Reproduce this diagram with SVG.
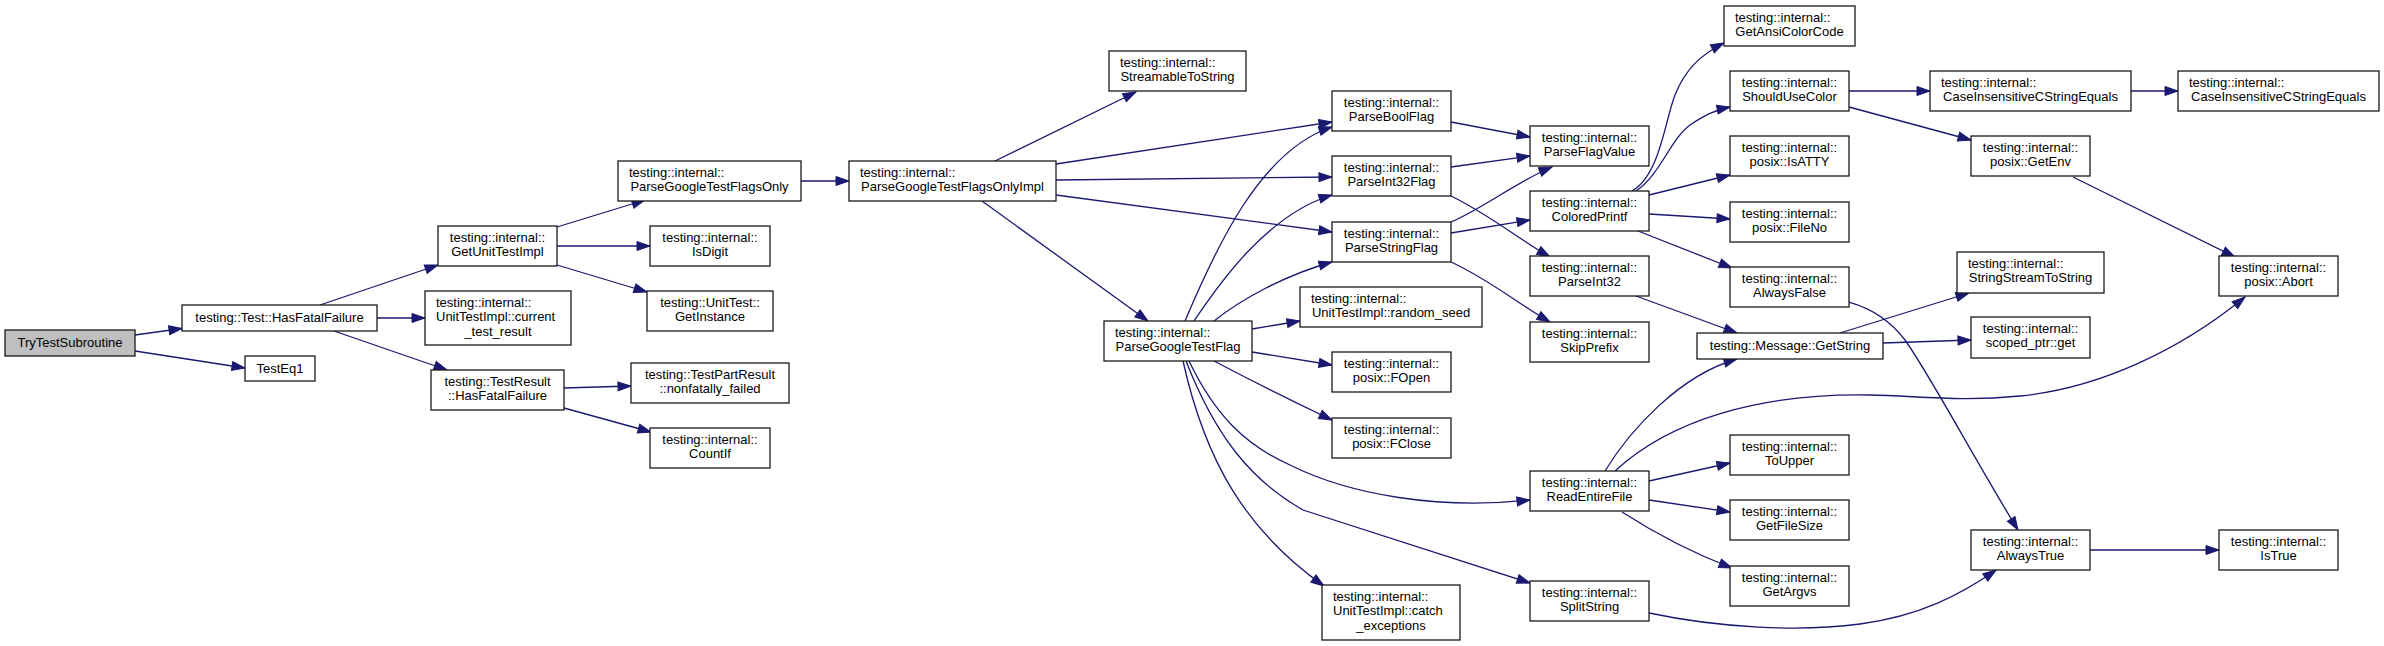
<svg xmlns="http://www.w3.org/2000/svg" width="2384" height="646" viewBox="0 0 2384 646">
<style>
.n rect{fill:#fff;stroke:#1a1a1a;stroke-width:1.3}
.root rect{fill:#bfbfbf}
text{font-family:"Liberation Sans",Arial,Helvetica,sans-serif;font-size:13px;fill:#000}
.c{text-anchor:middle}
#edges path{fill:none;stroke:#191970;stroke-width:1.3;marker-end:url(#a)}
</style>
<defs>
<marker id="a" markerUnits="userSpaceOnUse" markerWidth="14" markerHeight="10" refX="13" refY="4.5" orient="auto" overflow="visible"><path d="M0,0 L13,4.5 L0,9 z" fill="#191970" stroke="#191970" stroke-width="1"/></marker>
</defs>
<rect width="2384" height="646" fill="#fff"/>
<g id="edges">
<path d="M135,335 L182,328.5"/>
<path d="M135,351 L245,368"/>
<path d="M320,305 L438,265"/>
<path d="M377,318 L425,318"/>
<path d="M334,331 L447,370"/>
<path d="M557,227 L645,200"/>
<path d="M557,246 L650,246"/>
<path d="M557,265 L647,292"/>
<path d="M564,388 L631,386"/>
<path d="M564,408 L651,432"/>
<path d="M801,181 L849,181"/>
<path d="M995,161 L1136,92"/>
<path d="M1056,164 L1332,122"/>
<path d="M1056,180 L1332,177"/>
<path d="M1056,195 L1332,232"/>
<path d="M982,201 L1148,321"/>
<path d="M1185,321 C1215,250 1260,150 1332,127"/>
<path d="M1194,321 C1215,290 1265,215 1332,195"/>
<path d="M1214,321 C1240,300 1285,275 1332,262"/>
<path d="M1252,329 L1300,321"/>
<path d="M1252,352 L1332,365"/>
<path d="M1214,361 C1250,380 1290,400 1332,420"/>
<path d="M1189,361 C1215,415 1245,445 1290,465 C1350,495 1440,510 1530,500"/>
<path d="M1186,361 C1215,435 1250,480 1303,510 L1530,583"/>
<path d="M1183,361 C1205,460 1245,530 1324,586"/>
<path d="M1451,122 L1530,137"/>
<path d="M1451,167 L1530,156"/>
<path d="M1451,196 C1490,215 1520,240 1550,257"/>
<path d="M1451,222 C1480,210 1520,180 1552,167"/>
<path d="M1451,233 L1530,220"/>
<path d="M1451,262 C1490,280 1520,305 1550,322"/>
<path d="M1632,191 C1660,175 1665,120 1675,95 C1685,70 1700,55 1724,43"/>
<path d="M1636,191 C1660,175 1670,140 1690,125 C1705,115 1715,110 1730,107"/>
<path d="M1649,195 L1730,175"/>
<path d="M1649,214 L1730,219"/>
<path d="M1638,231 L1732,268"/>
<path d="M1636,296 L1737,333"/>
<path d="M1605,471 C1630,430 1680,375 1737,359"/>
<path d="M1615,471 C1670,420 1760,393 1870,395 C1920,396 1960,402 2020,396 C2100,388 2180,350 2245,297"/>
<path d="M1649,481 L1730,463"/>
<path d="M1649,500 L1730,512"/>
<path d="M1622,512 C1650,530 1690,552 1732,568"/>
<path d="M1649,613 C1720,628 1800,632 1860,624 C1920,616 1960,595 1996,570"/>
<path d="M1849,302 C1870,308 1890,320 1905,340 C1930,375 1975,460 2018,530"/>
<path d="M1840,333 L1969,293"/>
<path d="M1883,343 L1971,340"/>
<path d="M1849,91 L1930,91"/>
<path d="M1849,107 L1971,140"/>
<path d="M2131,91 L2178,91"/>
<path d="M2073,177 L2235,257"/>
<path d="M2090,550 L2219,550"/>
</g>
<g id="n_root" class="n root"><rect x="5" y="330" width="130" height="26"/><text class="c" x="70" y="347">TryTestSubroutine</text></g>
<g id="n_hff" class="n"><rect x="182" y="305" width="195" height="26"/><text class="c" x="279.5" y="322">testing::Test::HasFatalFailure</text></g>
<g id="n_eq1" class="n"><rect x="245" y="356" width="70" height="25"/><text class="c" x="280" y="373">TestEq1</text></g>
<g id="n_guti" class="n"><rect x="438" y="226" width="119" height="40"/><text class="c" x="497.5" y="241.5">testing::internal::</text><text class="c" x="497.5" y="256">GetUnitTestImpl</text></g>
<g id="n_ctr" class="n"><rect x="425" y="291" width="146" height="54"/><text x="436" y="306.5">testing::internal::</text><text x="436" y="321">UnitTestImpl::current</text><text class="c" x="498" y="335.5">_test_result</text></g>
<g id="n_trhff" class="n"><rect x="431" y="370" width="133" height="40"/><text class="c" x="497.5" y="385.5">testing::TestResult</text><text class="c" x="497.5" y="400">::HasFatalFailure</text></g>
<g id="n_pgtfo" class="n"><rect x="618" y="161" width="183" height="40"/><text x="629" y="176.5">testing::internal::</text><text class="c" x="709.5" y="191">ParseGoogleTestFlagsOnly</text></g>
<g id="n_isdigit" class="n"><rect x="650" y="226" width="120" height="40"/><text class="c" x="710" y="241.5">testing::internal::</text><text class="c" x="710" y="256">IsDigit</text></g>
<g id="n_getinst" class="n"><rect x="647" y="291" width="126" height="40"/><text class="c" x="710" y="306.5">testing::UnitTest::</text><text class="c" x="710" y="321">GetInstance</text></g>
<g id="n_nff" class="n"><rect x="631" y="363" width="158" height="40"/><text class="c" x="710" y="378.5">testing::TestPartResult</text><text class="c" x="710" y="393">::nonfatally_failed</text></g>
<g id="n_countif" class="n"><rect x="650" y="428" width="120" height="40"/><text class="c" x="710" y="443.5">testing::internal::</text><text class="c" x="710" y="458">CountIf</text></g>
<g id="n_pgtfoi" class="n"><rect x="849" y="161" width="207" height="40"/><text x="860" y="176.5">testing::internal::</text><text class="c" x="952.5" y="191">ParseGoogleTestFlagsOnlyImpl</text></g>
<g id="n_sts" class="n"><rect x="1109" y="51" width="137" height="40"/><text x="1120" y="66.5">testing::internal::</text><text class="c" x="1177.5" y="81">StreamableToString</text></g>
<g id="n_pgtf" class="n"><rect x="1104" y="321" width="148" height="40"/><text x="1115" y="336.5">testing::internal::</text><text class="c" x="1178" y="351">ParseGoogleTestFlag</text></g>
<g id="n_pbf" class="n"><rect x="1332" y="91" width="119" height="40"/><text class="c" x="1391.5" y="106.5">testing::internal::</text><text class="c" x="1391.5" y="121">ParseBoolFlag</text></g>
<g id="n_pi32f" class="n"><rect x="1332" y="156" width="119" height="40"/><text class="c" x="1391.5" y="171.5">testing::internal::</text><text class="c" x="1391.5" y="186">ParseInt32Flag</text></g>
<g id="n_psf" class="n"><rect x="1332" y="222" width="119" height="40"/><text class="c" x="1391.5" y="237.5">testing::internal::</text><text class="c" x="1391.5" y="252">ParseStringFlag</text></g>
<g id="n_rs" class="n"><rect x="1300" y="287" width="182" height="40"/><text x="1311" y="302.5">testing::internal::</text><text class="c" x="1391" y="317">UnitTestImpl::random_seed</text></g>
<g id="n_fopen" class="n"><rect x="1332" y="352" width="119" height="40"/><text class="c" x="1391.5" y="367.5">testing::internal::</text><text class="c" x="1391.5" y="382">posix::FOpen</text></g>
<g id="n_fclose" class="n"><rect x="1332" y="418" width="119" height="40"/><text class="c" x="1391.5" y="433.5">testing::internal::</text><text class="c" x="1391.5" y="448">posix::FClose</text></g>
<g id="n_catch" class="n"><rect x="1322" y="585" width="138" height="55"/><text x="1333" y="600.5">testing::internal::</text><text x="1333" y="615">UnitTestImpl::catch</text><text class="c" x="1391" y="629.5">_exceptions</text></g>
<g id="n_pfv" class="n"><rect x="1530" y="126" width="119" height="40"/><text class="c" x="1589.5" y="141.5">testing::internal::</text><text class="c" x="1589.5" y="156">ParseFlagValue</text></g>
<g id="n_cp" class="n"><rect x="1530" y="191" width="119" height="40"/><text class="c" x="1589.5" y="206.5">testing::internal::</text><text class="c" x="1589.5" y="221">ColoredPrintf</text></g>
<g id="n_pi32" class="n"><rect x="1530" y="256" width="119" height="40"/><text class="c" x="1589.5" y="271.5">testing::internal::</text><text class="c" x="1589.5" y="286">ParseInt32</text></g>
<g id="n_skip" class="n"><rect x="1530" y="322" width="119" height="40"/><text class="c" x="1589.5" y="337.5">testing::internal::</text><text class="c" x="1589.5" y="352">SkipPrefix</text></g>
<g id="n_ref" class="n"><rect x="1530" y="471" width="119" height="40"/><text class="c" x="1589.5" y="486.5">testing::internal::</text><text class="c" x="1589.5" y="501">ReadEntireFile</text></g>
<g id="n_split" class="n"><rect x="1530" y="581" width="119" height="40"/><text class="c" x="1589.5" y="596.5">testing::internal::</text><text class="c" x="1589.5" y="611">SplitString</text></g>
<g id="n_gacc" class="n"><rect x="1724" y="6" width="131" height="40"/><text x="1735" y="21.5">testing::internal::</text><text class="c" x="1789.5" y="36">GetAnsiColorCode</text></g>
<g id="n_suc" class="n"><rect x="1730" y="71" width="119" height="40"/><text class="c" x="1789.5" y="86.5">testing::internal::</text><text class="c" x="1789.5" y="101">ShouldUseColor</text></g>
<g id="n_isatty" class="n"><rect x="1730" y="136" width="119" height="40"/><text class="c" x="1789.5" y="151.5">testing::internal::</text><text class="c" x="1789.5" y="166">posix::IsATTY</text></g>
<g id="n_fileno" class="n"><rect x="1730" y="202" width="119" height="40"/><text class="c" x="1789.5" y="217.5">testing::internal::</text><text class="c" x="1789.5" y="232">posix::FileNo</text></g>
<g id="n_af" class="n"><rect x="1730" y="267" width="119" height="40"/><text class="c" x="1789.5" y="282.5">testing::internal::</text><text class="c" x="1789.5" y="297">AlwaysFalse</text></g>
<g id="n_msg" class="n"><rect x="1697" y="333" width="186" height="26"/><text class="c" x="1790" y="350">testing::Message::GetString</text></g>
<g id="n_toupper" class="n"><rect x="1730" y="435" width="119" height="40"/><text class="c" x="1789.5" y="450.5">testing::internal::</text><text class="c" x="1789.5" y="465">ToUpper</text></g>
<g id="n_gfs" class="n"><rect x="1730" y="500" width="119" height="40"/><text class="c" x="1789.5" y="515.5">testing::internal::</text><text class="c" x="1789.5" y="530">GetFileSize</text></g>
<g id="n_argv" class="n"><rect x="1730" y="566" width="119" height="40"/><text class="c" x="1789.5" y="581.5">testing::internal::</text><text class="c" x="1789.5" y="596">GetArgvs</text></g>
<g id="n_cise1" class="n"><rect x="1930" y="71" width="201" height="40"/><text x="1941" y="86.5">testing::internal::</text><text class="c" x="2030.5" y="101">CaseInsensitiveCStringEquals</text></g>
<g id="n_cise2" class="n"><rect x="2178" y="71" width="201" height="40"/><text x="2189" y="86.5">testing::internal::</text><text class="c" x="2278.5" y="101">CaseInsensitiveCStringEquals</text></g>
<g id="n_getenv" class="n"><rect x="1971" y="136" width="119" height="40"/><text class="c" x="2030.5" y="151.5">testing::internal::</text><text class="c" x="2030.5" y="166">posix::GetEnv</text></g>
<g id="n_ssts" class="n"><rect x="1957" y="252" width="147" height="41"/><text x="1968" y="267.5">testing::internal::</text><text class="c" x="2030.5" y="282">StringStreamToString</text></g>
<g id="n_sptr" class="n"><rect x="1971" y="317" width="119" height="41"/><text class="c" x="2030.5" y="332.5">testing::internal::</text><text class="c" x="2030.5" y="347">scoped_ptr::get</text></g>
<g id="n_abort" class="n"><rect x="2219" y="256" width="119" height="40"/><text class="c" x="2278.5" y="271.5">testing::internal::</text><text class="c" x="2278.5" y="286">posix::Abort</text></g>
<g id="n_at" class="n"><rect x="1971" y="530" width="119" height="40"/><text class="c" x="2030.5" y="545.5">testing::internal::</text><text class="c" x="2030.5" y="560">AlwaysTrue</text></g>
<g id="n_istrue" class="n"><rect x="2219" y="530" width="119" height="40"/><text class="c" x="2278.5" y="545.5">testing::internal::</text><text class="c" x="2278.5" y="560">IsTrue</text></g>
</svg>
